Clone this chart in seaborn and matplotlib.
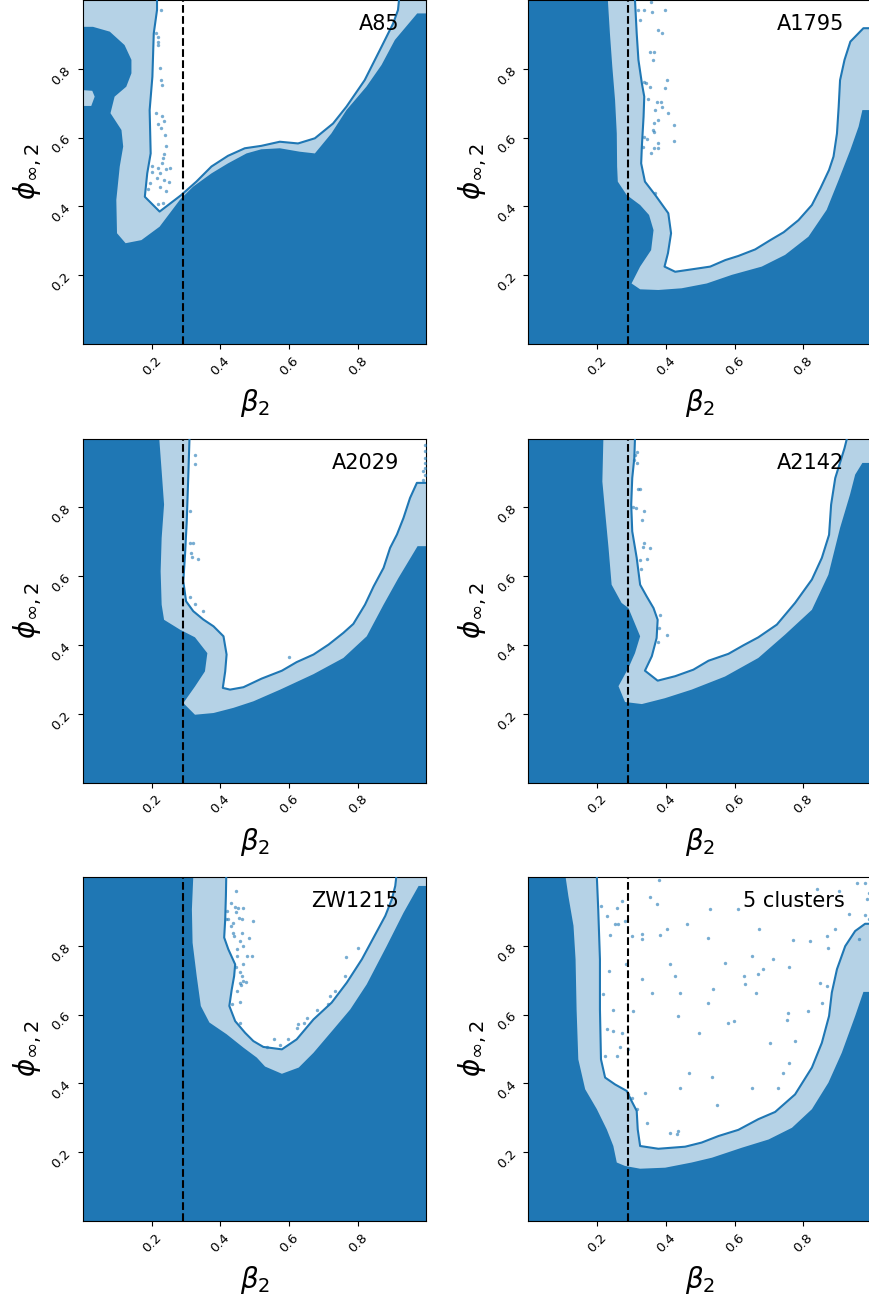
import matplotlib
matplotlib.use("Agg")
import matplotlib.pyplot as plt
import seaborn as sns

# ---------------- data ----------------
panel_names = ["A85", "A1795", "A2029", "A2142", "ZW1215", "5 clusters"]
beta_ref = 0.29
x_ticks = [0.2, 0.4, 0.6, 0.8]

# inner (1-sigma) contour: boundary of allowed (white) region
a85_in_x = [0.2155, 0.2155, 0.206, 0.202, 0.194, 0.197, 0.187, 0.180, 0.223, 0.286, 0.330, 0.374, 0.422, 0.471,
            0.519, 0.573, 0.626, 0.675, 0.728, 0.767, 0.820, 0.869, 0.903, 0.917, 0.920]
a85_in_y = [1.0, 0.971, 0.903, 0.777, 0.680, 0.554, 0.496, 0.428, 0.385, 0.433, 0.472, 0.516, 0.547, 0.569,
            0.576, 0.588, 0.583, 0.598, 0.641, 0.690, 0.767, 0.864, 0.932, 0.971, 1.0]
a85_out_x = [0.0, 0.0, 0.029, 0.078, 0.121, 0.141, 0.141, 0.126, 0.092, 0.080, 0.112, 0.117, 0.107, 0.097, 0.099,
             0.124, 0.170, 0.223, 0.282, 0.320, 0.374, 0.422, 0.476, 0.519, 0.573, 0.631, 0.675, 0.723, 0.767,
             0.825, 0.869, 0.908, 0.973, 1.0]
a85_out_y = [1.0, 0.922, 0.922, 0.908, 0.869, 0.826, 0.787, 0.748, 0.719, 0.671, 0.622, 0.574, 0.516, 0.419, 0.322,
             0.293, 0.302, 0.341, 0.419, 0.457, 0.496, 0.525, 0.554, 0.566, 0.569, 0.559, 0.554, 0.612, 0.680,
             0.748, 0.811, 0.884, 0.961, 0.961]
a85_patch_x = [0.0, 0.027, 0.034, 0.024, 0.0]
a85_patch_y = [0.738, 0.736, 0.719, 0.692, 0.692]
a85_pts_x = [0.226, 0.212, 0.217, 0.219, 0.217, 0.223, 0.226, 0.229, 0.212, 0.229, 0.236, 0.219, 0.226, 0.239,
             0.243, 0.236, 0.233, 0.229, 0.202, 0.200, 0.217, 0.243, 0.254, 0.223, 0.214, 0.236, 0.250, 0.196,
             0.190, 0.241, 0.217, 0.233, 0.223]
a85_pts_y = [0.971, 0.903, 0.891, 0.879, 0.868, 0.801, 0.767, 0.753, 0.671, 0.663, 0.649, 0.639, 0.627, 0.608,
             0.577, 0.551, 0.540, 0.527, 0.518, 0.501, 0.511, 0.509, 0.513, 0.496, 0.482, 0.477, 0.472, 0.469,
             0.450, 0.446, 0.407, 0.409, 0.457]

a1795_in_x = [0.310, 0.315, 0.320, 0.330, 0.337, 0.335, 0.330, 0.328, 0.339, 0.369, 0.407, 0.415, 0.406, 0.396,
              0.427, 0.475, 0.529, 0.573, 0.611, 0.660, 0.704, 0.743, 0.786, 0.825, 0.850, 0.875, 0.888, 0.898,
              0.903, 0.907, 0.920, 0.937, 0.975, 1.0]
a1795_in_y = [1.0, 0.903, 0.826, 0.758, 0.719, 0.661, 0.574, 0.525, 0.472, 0.433, 0.380, 0.322, 0.264, 0.225,
              0.210, 0.217, 0.225, 0.244, 0.256, 0.275, 0.302, 0.325, 0.360, 0.404, 0.453, 0.506, 0.545, 0.612,
              0.690, 0.767, 0.826, 0.879, 0.918, 0.918]
a1795_out_x = [0.231, 0.237, 0.244, 0.252, 0.257, 0.258, 0.260, 0.286, 0.325, 0.351, 0.364, 0.357, 0.325, 0.300,
               0.325, 0.378, 0.446, 0.519, 0.592, 0.679, 0.747, 0.815, 0.868, 0.903, 0.937, 0.961, 0.972, 1.0]
a1795_out_y = [1.0, 0.903, 0.806, 0.709, 0.612, 0.516, 0.472, 0.433, 0.404, 0.375, 0.331, 0.273, 0.225, 0.176,
               0.159, 0.157, 0.162, 0.176, 0.201, 0.225, 0.259, 0.312, 0.390, 0.477, 0.564, 0.632, 0.680, 0.680]
a1795_pts_x = [0.320, 0.337, 0.357, 0.325, 0.396, 0.359, 0.378, 0.388, 0.354, 0.364, 0.362, 0.402, 0.337, 0.341,
               0.354, 0.396, 0.349, 0.373, 0.386, 0.368, 0.390, 0.407, 0.376, 0.364, 0.425, 0.362, 0.366, 0.335,
               0.344, 0.424, 0.378, 0.364, 0.376, 0.332, 0.357, 0.369]
a1795_pts_y = [0.971, 0.971, 0.995, 0.942, 0.971, 0.966, 0.913, 0.903, 0.850, 0.850, 0.826, 0.767, 0.763, 0.758,
               0.748, 0.743, 0.711, 0.704, 0.704, 0.680, 0.688, 0.671, 0.651, 0.641, 0.637, 0.622, 0.617, 0.603,
               0.595, 0.590, 0.583, 0.571, 0.569, 0.574, 0.554, 0.440]

a2029_in_x = [0.310, 0.307, 0.302, 0.297, 0.292, 0.300, 0.321, 0.350, 0.380, 0.409, 0.418, 0.414, 0.407, 0.428,
              0.467, 0.520, 0.579, 0.622, 0.671, 0.715, 0.758, 0.787, 0.821, 0.846, 0.875, 0.894, 0.914, 0.933,
              0.952, 0.972, 1.0]
a2029_in_y = [1.0, 0.905, 0.759, 0.662, 0.585, 0.527, 0.498, 0.474, 0.454, 0.425, 0.372, 0.323, 0.275, 0.270,
              0.277, 0.302, 0.325, 0.350, 0.372, 0.401, 0.435, 0.461, 0.517, 0.570, 0.624, 0.682, 0.721, 0.769,
              0.827, 0.871, 0.871]
a2029_out_x = [0.222, 0.229, 0.236, 0.229, 0.226, 0.229, 0.236, 0.283, 0.326, 0.362, 0.355, 0.326, 0.292, 0.326,
               0.380, 0.438, 0.496, 0.574, 0.671, 0.758, 0.826, 0.875, 0.918, 0.974, 1.0]
a2029_out_y = [1.0, 0.905, 0.808, 0.711, 0.614, 0.517, 0.473, 0.444, 0.422, 0.376, 0.323, 0.279, 0.231, 0.197,
               0.202, 0.217, 0.236, 0.270, 0.315, 0.362, 0.425, 0.517, 0.594, 0.687, 0.687]
a2029_pts_x = [0.326, 0.326, 0.312, 0.319, 0.315, 0.317, 0.336, 0.312, 0.326, 0.349, 0.601, 0.996, 0.996, 0.996,
               0.996, 0.996, 0.991, 0.996, 0.991, 0.312]
a2029_pts_y = [0.951, 0.926, 0.696, 0.696, 0.667, 0.655, 0.651, 0.538, 0.520, 0.500, 0.365, 0.982, 0.963, 0.943,
               0.929, 0.914, 0.905, 0.895, 0.880, 0.788]

a2142_in_x = [0.310, 0.308, 0.302, 0.299, 0.302, 0.315, 0.325, 0.344, 0.364, 0.376, 0.373, 0.359, 0.339, 0.376,
              0.427, 0.480, 0.524, 0.582, 0.626, 0.669, 0.723, 0.776, 0.825, 0.854, 0.875, 0.881, 0.893, 0.920,
              0.927]
a2142_in_y = [1.0, 0.943, 0.885, 0.808, 0.730, 0.653, 0.575, 0.541, 0.507, 0.473, 0.420, 0.367, 0.325, 0.296,
              0.309, 0.328, 0.354, 0.374, 0.399, 0.422, 0.459, 0.522, 0.590, 0.653, 0.720, 0.808, 0.885, 0.972,
              1.0]
a2142_out_x = [0.218, 0.215, 0.223, 0.233, 0.242, 0.271, 0.291, 0.325, 0.310, 0.291, 0.262, 0.281, 0.330, 0.397,
               0.475, 0.572, 0.669, 0.747, 0.825, 0.873, 0.907, 0.936, 0.951, 0.972, 1.0]
a2142_out_y = [1.0, 0.875, 0.788, 0.682, 0.575, 0.522, 0.507, 0.425, 0.376, 0.333, 0.280, 0.234, 0.228, 0.245,
               0.270, 0.308, 0.362, 0.430, 0.502, 0.604, 0.740, 0.837, 0.895, 0.929, 0.929]
a2142_pts_x = [0.315, 0.308, 0.315, 0.318, 0.325, 0.305, 0.312, 0.337, 0.330, 0.337, 0.332, 0.355, 0.344, 0.325,
               0.328, 0.383, 0.381, 0.404, 0.376, 0.310]
a2142_pts_y = [0.961, 0.938, 0.929, 0.854, 0.854, 0.801, 0.798, 0.788, 0.762, 0.696, 0.686, 0.681, 0.650, 0.648,
               0.621, 0.486, 0.449, 0.428, 0.408, 0.953]

zw_in_x = [0.417, 0.416, 0.414, 0.411, 0.423, 0.443, 0.440, 0.433, 0.426, 0.443, 0.472, 0.496, 0.525, 0.579,
           0.622, 0.671, 0.724, 0.768, 0.812, 0.846, 0.880, 0.899, 0.909, 0.912]
zw_in_y = [1.0, 0.945, 0.877, 0.824, 0.790, 0.746, 0.712, 0.673, 0.625, 0.581, 0.547, 0.523, 0.506, 0.499,
           0.528, 0.586, 0.635, 0.693, 0.761, 0.824, 0.887, 0.935, 0.974, 1.0]
zw_out_x = [0.321, 0.317, 0.319, 0.331, 0.343, 0.368, 0.418, 0.467, 0.506, 0.530, 0.579, 0.628, 0.671, 0.729,
            0.778, 0.826, 0.884, 0.933, 0.977, 1.0]
zw_out_y = [1.0, 0.906, 0.809, 0.712, 0.625, 0.577, 0.543, 0.504, 0.475, 0.449, 0.428, 0.446, 0.489, 0.557,
            0.615, 0.688, 0.799, 0.896, 0.974, 0.974]
zw_pts_x = [0.446, 0.430, 0.443, 0.450, 0.465, 0.418, 0.446, 0.423, 0.455, 0.462, 0.416, 0.438, 0.430, 0.436,
            0.464, 0.440, 0.482, 0.457, 0.467, 0.448, 0.477, 0.448, 0.491, 0.465, 0.444, 0.457, 0.462, 0.467,
            0.457, 0.475, 0.459, 0.448, 0.457, 0.433, 0.457, 0.496, 0.802, 0.766, 0.763, 0.734, 0.719, 0.712,
            0.681, 0.651, 0.642, 0.627, 0.622, 0.598, 0.557, 0.574, 0.535]
zw_pts_y = [0.959, 0.923, 0.914, 0.911, 0.909, 0.901, 0.898, 0.879, 0.882, 0.877, 0.877, 0.867, 0.858, 0.838,
            0.838, 0.828, 0.824, 0.814, 0.799, 0.792, 0.770, 0.770, 0.770, 0.746, 0.739, 0.724, 0.712, 0.698,
            0.693, 0.695, 0.686, 0.669, 0.638, 0.630, 0.577, 0.872, 0.795, 0.768, 0.712, 0.669, 0.654, 0.632,
            0.613, 0.591, 0.577, 0.574, 0.562, 0.530, 0.530, 0.511, 0.507]

all_in_x = [0.199, 0.203, 0.208, 0.208, 0.211, 0.223, 0.252, 0.286, 0.300, 0.315, 0.318, 0.325, 0.378, 0.456,
            0.504, 0.553, 0.611, 0.669, 0.718, 0.776, 0.825, 0.854, 0.875, 0.883, 0.898, 0.922, 0.951, 0.980, 1.0]
all_in_y = [1.0, 0.906, 0.761, 0.615, 0.470, 0.417, 0.397, 0.378, 0.349, 0.320, 0.266, 0.218, 0.210, 0.216,
            0.228, 0.247, 0.265, 0.296, 0.317, 0.368, 0.446, 0.518, 0.596, 0.664, 0.732, 0.799, 0.843, 0.864, 0.864]
all_out_x = [0.108, 0.116, 0.131, 0.137, 0.140, 0.145, 0.165, 0.199, 0.228, 0.247, 0.257, 0.281, 0.325, 0.398,
             0.475, 0.534, 0.621, 0.699, 0.767, 0.825, 0.873, 0.912, 0.951, 0.975, 1.0]
all_out_y = [1.0, 0.945, 0.858, 0.761, 0.615, 0.470, 0.383, 0.325, 0.266, 0.218, 0.170, 0.160, 0.152, 0.155,
             0.170, 0.184, 0.213, 0.237, 0.271, 0.325, 0.402, 0.489, 0.596, 0.666, 0.666]
all_pts_x = [0.380, 0.956, 0.980, 0.839, 0.903, 0.990, 0.985, 0.354, 0.271, 0.373, 0.211, 0.257, 0.529, 0.611,
             0.932, 0.980, 0.990, 0.228, 0.252, 0.262, 0.281, 0.461, 0.893, 0.670, 0.237, 0.330, 0.330, 0.402,
             0.300, 0.383, 0.524, 0.771, 0.868, 0.820, 0.961, 0.873, 0.650, 0.713, 0.572, 0.412, 0.283, 0.233,
             0.684, 0.757, 0.626, 0.667, 0.427, 0.330, 0.538, 0.849, 0.629, 0.869, 0.359, 0.663, 0.441, 0.218,
             0.854, 0.524, 0.813, 0.755, 0.752, 0.597, 0.582, 0.436, 0.305, 0.247, 0.228, 0.247, 0.271, 0.495,
             0.776, 0.703, 0.223, 0.257, 0.291, 0.267, 0.466, 0.534, 0.742, 0.757, 0.441, 0.650, 0.726, 0.291,
             0.339, 0.302, 0.548, 0.315, 0.344, 0.412, 0.435, 0.431]
all_pts_y = [0.991, 0.984, 0.982, 0.964, 0.959, 0.954, 0.935, 0.943, 0.930, 0.921, 0.916, 0.909, 0.906, 0.906,
             0.891, 0.889, 0.877, 0.887, 0.862, 0.862, 0.872, 0.864, 0.850, 0.848, 0.830, 0.833, 0.819, 0.850,
             0.828, 0.830, 0.822, 0.817, 0.828, 0.814, 0.819, 0.795, 0.770, 0.761, 0.751, 0.746, 0.746, 0.727,
             0.732, 0.739, 0.712, 0.717, 0.712, 0.704, 0.673, 0.693, 0.688, 0.683, 0.664, 0.664, 0.664, 0.659,
             0.635, 0.635, 0.610, 0.606, 0.583, 0.581, 0.577, 0.596, 0.610, 0.613, 0.557, 0.552, 0.547, 0.546,
             0.523, 0.518, 0.480, 0.480, 0.499, 0.507, 0.431, 0.420, 0.429, 0.460, 0.388, 0.388, 0.388, 0.368,
             0.371, 0.359, 0.336, 0.327, 0.286, 0.255, 0.262, 0.252]

inner_x = [a85_in_x, a1795_in_x, a2029_in_x, a2142_in_x, zw_in_x, all_in_x]
inner_y = [a85_in_y, a1795_in_y, a2029_in_y, a2142_in_y, zw_in_y, all_in_y]
outer_x = [a85_out_x, a1795_out_x, a2029_out_x, a2142_out_x, zw_out_x, all_out_x]
outer_y = [a85_out_y, a1795_out_y, a2029_out_y, a2142_out_y, zw_out_y, all_out_y]
pts_x = [a85_pts_x, a1795_pts_x, a2029_pts_x, a2142_pts_x, zw_pts_x, all_pts_x]
pts_y = [a85_pts_y, a1795_pts_y, a2029_pts_y, a2142_pts_y, zw_pts_y, all_pts_y]

# ---------------- style ----------------
dark = "#1f77b4"
light = "#b5d2e6"

W, H = 870, 1303
fig = plt.figure(figsize=(W / 100, H / 100), dpi=100)

col_left = [83, 528.5]
row_top = [0, 438.5, 877]
ax_w, ax_h = 343.5, 344

for i, name in enumerate(panel_names):
    r, c = divmod(i, 2)
    left = col_left[c] / W
    bottom = (H - row_top[r] - ax_h) / H
    ax = fig.add_axes([left, bottom, ax_w / W, ax_h / H])
    ax.set_facecolor(dark)

    ox = list(outer_x[i]) + [1.0]
    oy = list(outer_y[i]) + [1.0]
    ax.fill(ox, oy, color=light, lw=0, zorder=1)
    if i == 0:
        ax.fill(a85_patch_x, a85_patch_y, color=light, lw=0, zorder=1)
    ix = list(inner_x[i]) + [1.0]
    iy = list(inner_y[i]) + [1.0]
    ax.fill(ix, iy, color="white", lw=0, zorder=2)

    sns.lineplot(x=inner_x[i], y=inner_y[i], sort=False, estimator=None,
                 color=dark, lw=1.5, ax=ax, zorder=3)
    sns.scatterplot(x=pts_x[i], y=pts_y[i], color=dark, s=6, alpha=0.6,
                    linewidth=0, ax=ax, zorder=4)
    ax.axvline(beta_ref, color="black", ls="--", lw=1.5, zorder=5)

    ax.text(0.92, 0.93, name, transform=ax.transAxes, ha="right", va="center",
            fontsize=15, zorder=6)

    ax.set_xlim(0, 1)
    ax.set_ylim(0, 1)
    ax.set_xticks(x_ticks)
    ax.set_yticks(x_ticks)
    ax.tick_params(axis="both", labelsize=9.5, labelrotation=45)
    ax.set_xlabel(r"$\beta_2$", fontsize=20, labelpad=7)
    ax.set_ylabel(r"$\phi_{\infty,2}$", fontsize=20)

fig.savefig("out.png", dpi=100)
